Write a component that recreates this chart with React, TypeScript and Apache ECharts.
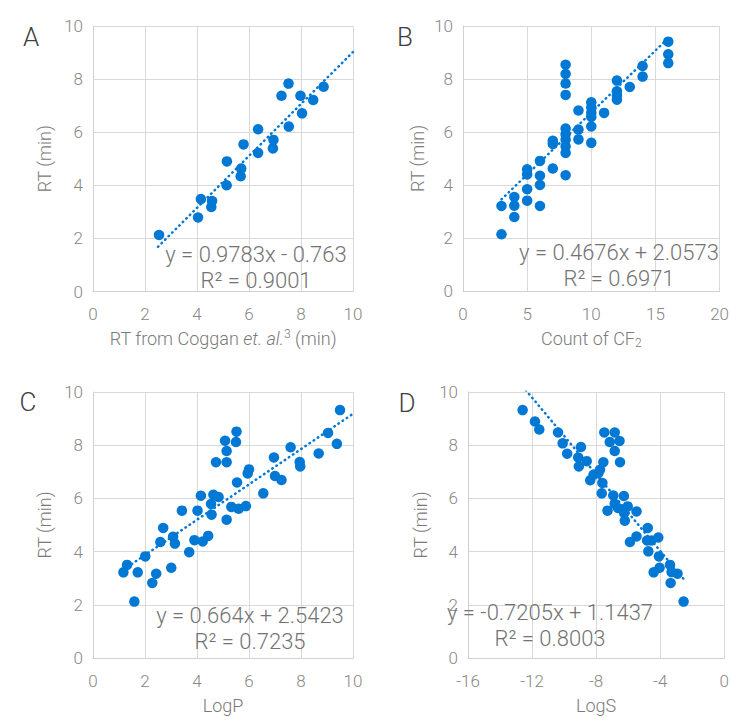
import React, { useEffect, useRef } from "react";
import * as echarts from "echarts";

// Panel A: RT from Coggan et al. vs RT
const A_X = [2.54, 4.04, 4.15, 4.58, 4.55, 5.14, 5.15, 5.68, 5.7, 5.79, 6.35, 6.35, 6.92, 6.94, 7.25, 7.52, 7.53, 7.98, 8.04, 8.47, 8.87];
const A_Y = [2.13, 2.79, 3.48, 3.41, 3.18, 4.0, 4.9, 4.34, 4.63, 5.54, 5.22, 6.11, 5.39, 5.71, 7.37, 7.83, 6.21, 7.37, 6.71, 7.21, 7.71];

// Panel B: Count of CF2 vs RT
const B_X = [3, 3, 4, 4, 4, 5, 5, 5, 5, 6, 6, 6, 6, 7, 7, 7, 8, 8, 8, 8, 8, 8, 8, 8, 8, 8, 9, 9, 9, 10, 10, 10, 10, 10, 10, 11, 12, 12, 12, 12, 13, 14, 14, 16, 16, 16];
const B_Y = [3.21, 2.14, 3.55, 3.22, 2.79, 4.59, 4.4, 3.84, 3.41, 4.91, 4.35, 4.0, 3.21, 5.67, 5.55, 4.62, 8.54, 8.19, 7.83, 7.4, 6.13, 5.91, 5.71, 5.46, 5.21, 4.37, 6.81, 6.09, 5.72, 7.12, 6.93, 6.73, 6.57, 6.21, 5.59, 6.72, 7.94, 7.54, 7.38, 7.22, 7.7, 8.49, 8.09, 9.41, 8.93, 8.6];

// Panel C: LogP vs RT
const C_X = [1.17, 1.31, 1.59, 1.72, 2.01, 2.28, 2.43, 2.59, 2.7, 3.01, 3.08, 3.15, 3.42, 3.7, 3.9, 4.02, 4.15, 4.22, 4.43, 4.54, 4.56, 4.63, 4.73, 4.83, 5.08, 5.14, 5.14, 5.14, 5.32, 5.5, 5.52, 5.54, 5.6, 5.88, 5.95, 6.0, 6.55, 6.96, 7.0, 7.25, 7.6, 7.95, 7.97, 8.68, 9.04, 9.38, 9.5];
const C_Y = [3.22, 3.5, 2.12, 3.22, 3.82, 2.82, 3.17, 4.36, 4.89, 3.39, 4.56, 4.3, 5.54, 3.98, 4.43, 5.54, 6.1, 4.38, 4.59, 5.79, 5.39, 6.14, 7.36, 6.05, 8.17, 5.2, 7.36, 7.78, 5.68, 8.12, 8.51, 6.6, 5.61, 5.71, 6.94, 7.09, 6.19, 7.54, 6.84, 6.69, 7.92, 7.37, 7.2, 7.69, 8.46, 8.05, 9.32];

// Panel D: LogS vs RT
const D_X = [-12.59, -11.82, -11.55, -10.38, -10.09, -9.81, -8.95, -9.12, -9.08, -8.59, -8.37, -8.16, -7.86, -7.61, -7.55, -7.65, -7.49, -6.84, -7.15, -6.54, -6.84, -6.51, -6.93, -6.27, -7.29, -6.84, -6.64, -6.03, -6.25, -6.21, -5.48, -5.89, -5.48, -4.78, -4.82, -4.55, -4.12, -4.74, -4.08, -4.41, -4.04, -3.39, -3.29, -2.92, -3.35, -2.54, -7.76];
const D_Y = [9.32, 8.89, 8.59, 8.48, 8.07, 7.68, 7.93, 7.54, 7.2, 7.4, 6.68, 6.89, 6.95, 6.58, 7.36, 6.19, 8.48, 8.48, 8.12, 8.16, 7.78, 7.36, 6.11, 6.09, 5.54, 5.8, 5.64, 5.7, 5.45, 5.16, 5.51, 4.36, 4.57, 4.89, 4.42, 4.42, 4.53, 4.01, 3.82, 3.22, 3.39, 3.5, 3.23, 3.17, 2.82, 2.12, 7.08];

// Trendlines: [slope, intercept, xStart, xEnd]
const TREND_A = [0.9783, -0.763, 2.5, 10];
const TREND_B = [0.4676, 2.0573, 3, 16];
const TREND_C = [0.664, 2.5423, 1.17, 10];
const TREND_D = [-0.7205, 1.1437, -12.59, -2.54];

const EQ_A = ["y = 0.9783x - 0.763", "R² = 0.9001"];
const EQ_B = ["y = 0.4676x + 2.0573", "R² = 0.6971"];
const EQ_C = ["y = 0.664x + 2.5423", "R² = 0.7235"];
const EQ_D = ["y = -0.7205x + 1.1437", "R² = 0.8003"];

const PANEL_LABELS = ["A", "B", "C", "D"];
const Y_TICKS = [0, 2, 4, 6, 8, 10];

const BLUE = "#0078D4";
const FONT = "Roboto";

const zip = (xs: number[], ys: number[]) => xs.map((x, i) => [x, ys[i]]);
const trend = (t: number[]) => [
  [t[2], t[0] * t[2] + t[1]],
  [t[3], t[0] * t[3] + t[1]],
];

export default function App() {
  const ref = useRef<HTMLDivElement>(null);
  useEffect(() => {
    document.body.style.margin = "0";
    const chart = echarts.init(ref.current!, null, { renderer: "svg" });

    const grids = [
      { left: 93, top: 26, width: 260, height: 265.5 },
      { left: 463, top: 26, width: 262, height: 265 },
      { left: 93, top: 392, width: 260, height: 266 },
      { left: 468, top: 392, width: 263, height: 266 },
    ];

    const axisCommon = {
      axisLine: { show: true, onZero: false, lineStyle: { color: "#d0d0d0", width: 1 } },
      axisTick: { show: false },
      splitLine: { show: true, lineStyle: { color: "#d9d9d9", width: 1 } },
      axisLabel: { color: "#878787", fontSize: 17, fontFamily: FONT, fontWeight: 300, margin: 10 },
      nameTextStyle: { color: "#7a7a7a", fontSize: 18, fontFamily: FONT, fontWeight: 300 },
    };
    const nameRich = {
      n: { fontSize: 18, fontFamily: FONT, fontWeight: 300, color: "#7a7a7a", lineHeight: 22 },
      i: { fontSize: 18, fontFamily: FONT, fontWeight: 300, fontStyle: "italic", color: "#7a7a7a", lineHeight: 22 },
      s: { fontSize: 12, fontFamily: FONT, fontWeight: 300, color: "#7a7a7a", lineHeight: 12, verticalAlign: "top" },
      b: { fontSize: 12, fontFamily: FONT, fontWeight: 300, color: "#7a7a7a", lineHeight: 12, verticalAlign: "bottom" },
    };

    const xAxes = [
      { min: 0, max: 10, interval: 2, name: "{n|RT from Coggan }{i|et. al.}{s|3}{n| (min)}" },
      { min: 0, max: 20, interval: 5, name: "{n|Count of CF}{b|2}" },
      { min: 0, max: 10, interval: 2, name: "{n|LogP}" },
      { min: -16, max: 0, interval: 4, name: "{n|LogS}" },
    ].map((a, i) => ({
      ...axisCommon,
      type: "value",
      gridIndex: i,
      min: a.min,
      max: a.max,
      interval: a.interval,
      name: a.name,
      nameLocation: "middle",
      nameGap: 36,
      nameTextStyle: { ...axisCommon.nameTextStyle, rich: nameRich },
      axisLabel: { ...axisCommon.axisLabel, margin: 14 },
    }));

    const yGaps = [40, 37, 40, 39];
    const yAxes = [0, 1, 2, 3].map((i) => ({
      ...axisCommon,
      type: "value",
      gridIndex: i,
      min: Y_TICKS[0],
      max: Y_TICKS[Y_TICKS.length - 1],
      interval: 2,
      name: "RT (min)",
      nameLocation: "middle",
      nameGap: yGaps[i],
    }));

    const sets = [
      [A_X, A_Y, TREND_A],
      [B_X, B_Y, TREND_B],
      [C_X, C_Y, TREND_C],
      [D_X, D_Y, TREND_D],
    ] as number[][][];

    const series: any[] = [];
    sets.forEach((s, i) => {
      series.push({
        type: "scatter",
        xAxisIndex: i,
        yAxisIndex: i,
        data: zip(s[0], s[1]),
        symbolSize: 10.5,
        itemStyle: { color: BLUE, opacity: 1 },
        z: 2,
      });
      series.push({
        type: "line",
        xAxisIndex: i,
        yAxisIndex: i,
        data: trend(s[2]),
        showSymbol: false,
        symbol: "none",
        clip: true,
        lineStyle: { color: BLUE, width: 2.5, type: [0.5, 4.5], cap: "round" },
        z: 3,
      });
    });

    const eqs = [EQ_A, EQ_B, EQ_C, EQ_D];
    const eqPos = [
      [256, 267],
      [619, 265],
      [250, 628],
      [550, 625],
    ];
    const letterPos = [
      [31, 37],
      [405, 37],
      [28, 402],
      [407, 403],
    ];
    const graphic: any[] = [];
    eqs.forEach((e, i) => {
      graphic.push({
        type: "text",
        x: eqPos[i][0],
        y: eqPos[i][1],
        z: 10,
        style: {
          text: e.join("\n"),
          fill: "#737373",
          fontSize: 22,
          fontFamily: FONT,
          fontWeight: 300,
          lineHeight: 26,
          align: "center",
          verticalAlign: "middle",
        },
      });
    });
    PANEL_LABELS.forEach((l, i) => {
      graphic.push({
        type: "text",
        x: letterPos[i][0],
        y: letterPos[i][1],
        style: {
          text: l,
          fill: "#404040",
          fontSize: 26,
          fontFamily: FONT,
          fontWeight: 300,
          align: "center",
          verticalAlign: "middle",
        },
      });
    });

    chart.setOption({
      animation: false,
      backgroundColor: "#ffffff",
      grid: grids,
      xAxis: xAxes,
      yAxis: yAxes,
      series,
      graphic,
    });
    return () => chart.dispose();
  }, []);
  return <div ref={ref} style={{ width: 732, height: 728 }} />;
}
